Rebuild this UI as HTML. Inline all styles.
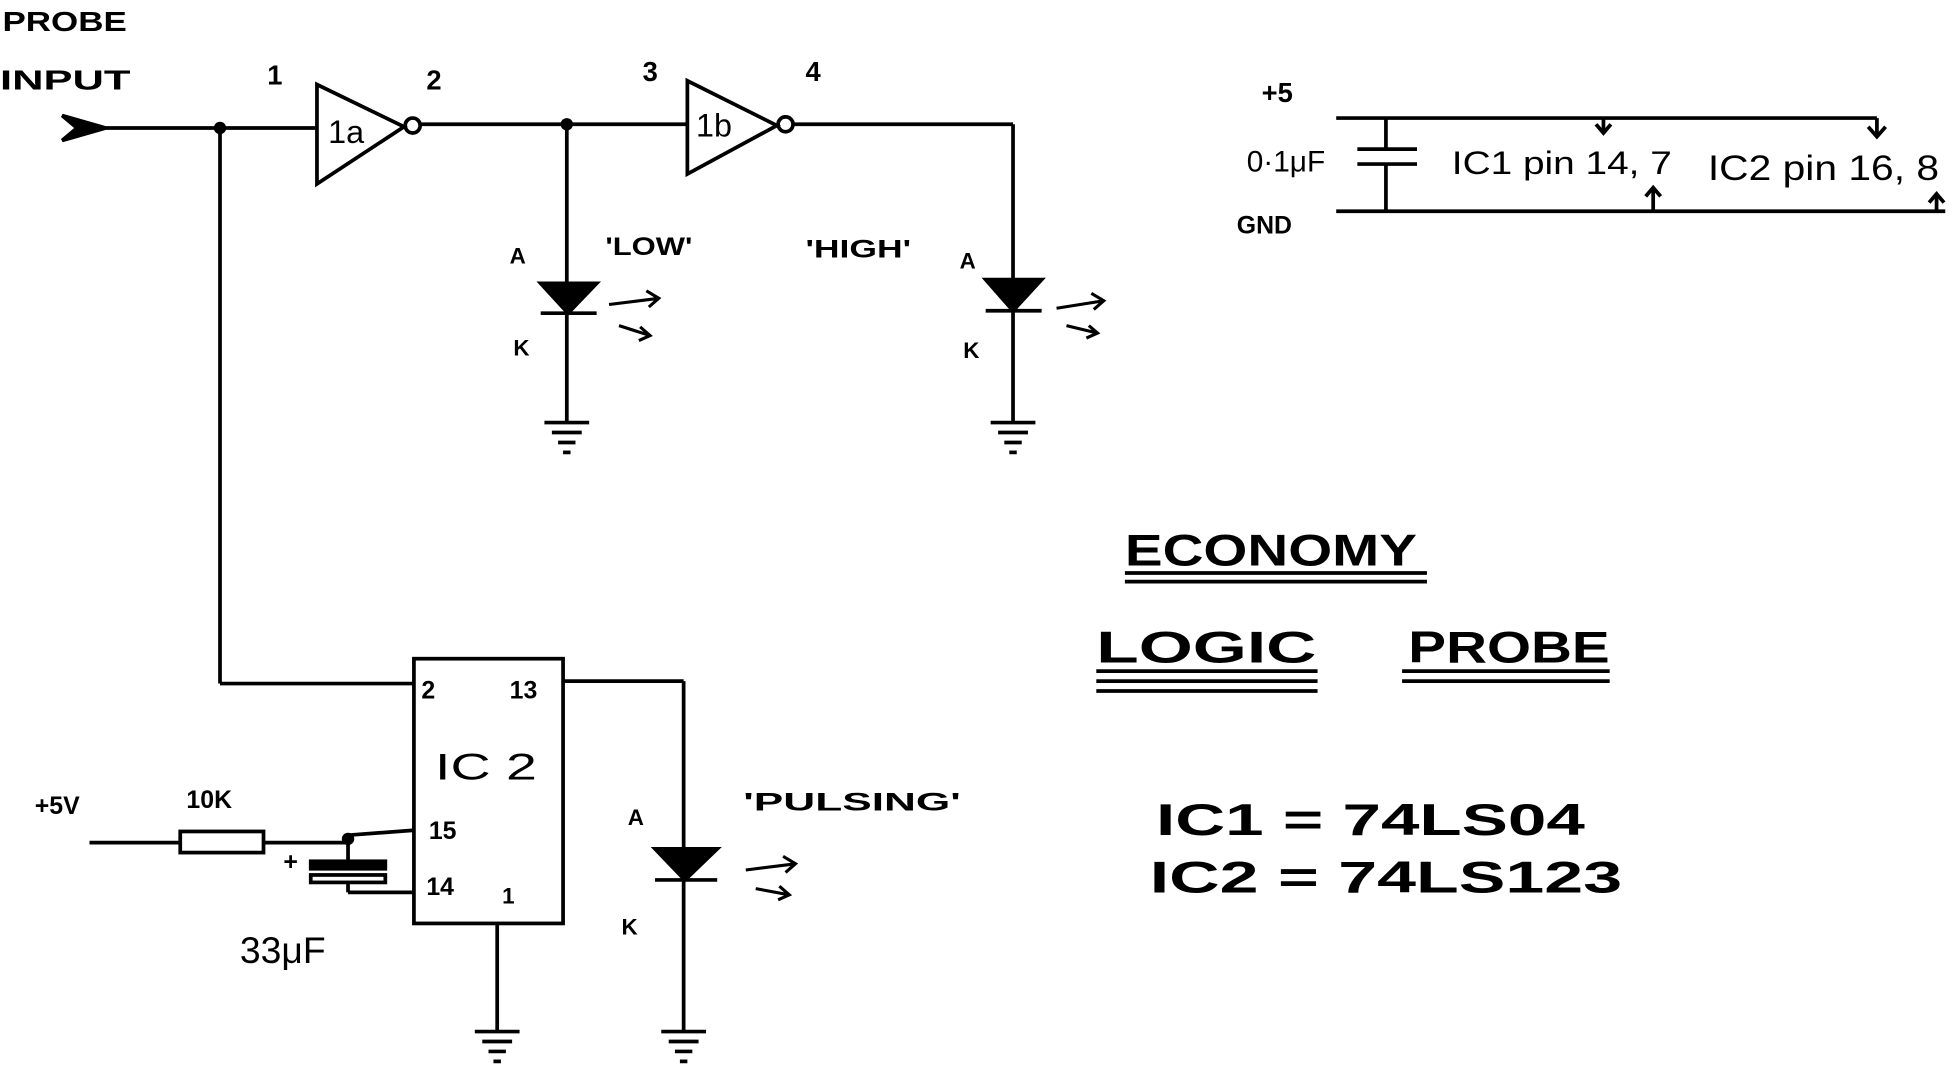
<!DOCTYPE html>
<html><head><meta charset="utf-8"><style>
html,body{margin:0;padding:0;background:#fff;}
svg{display:block;}
text{font-family:"Liberation Sans",sans-serif;fill:#000;}
</style></head><body>
<svg width="1949" height="1085" viewBox="0 0 1568 873" preserveAspectRatio="none" xmlns="http://www.w3.org/2000/svg">
<g stroke="#000" stroke-width="3" fill="none">
<path d="M50,93 L85,103 L50,113 L62,103 Z" fill="#000"/>
<line x1="85" y1="103" x2="255" y2="103"/>
<line x1="177" y1="103" x2="177" y2="550"/>
<line x1="177" y1="550" x2="333" y2="550"/>
<path d="M255,68 L255,148 L325,102 Z"/>
<circle cx="332" cy="101" r="6"/>
<line x1="338" y1="100" x2="553" y2="100"/>
<path d="M553,65 L553,140 L625,101 Z"/>
<circle cx="632" cy="100" r="6"/>
<line x1="638" y1="100" x2="815" y2="100"/>
<line x1="456" y1="100" x2="456" y2="340"/>
<path d="M435,228 L480,228 L457,252 Z" fill="#000"/>
<line x1="435" y1="252" x2="480" y2="252"/>
<line x1="815" y1="100" x2="815" y2="340"/>
<path d="M793,225 L838,225 L815,250 Z" fill="#000"/>
<line x1="793" y1="250" x2="838" y2="250"/>
<rect x="333" y="530" width="120" height="213"/>
<line x1="453" y1="548" x2="550" y2="548"/>
<line x1="550" y1="548" x2="550" y2="830"/>
<path d="M527,683 L577,683 L551,708 Z" fill="#000"/>
<line x1="527" y1="708" x2="577" y2="708"/>
<line x1="400" y1="743" x2="400" y2="830"/>
<line x1="72" y1="678" x2="145" y2="678"/>
<rect x="145" y="669" width="67" height="17"/>
<line x1="212" y1="678" x2="280" y2="678"/>
<line x1="280" y1="672" x2="333" y2="668"/>
<line x1="280" y1="678" x2="280" y2="693"/>
<rect x="250" y="693" width="60" height="6" fill="#000"/>
<rect x="250" y="704" width="60" height="6"/>
<line x1="280" y1="710" x2="280" y2="718"/>
<line x1="280" y1="718" x2="333" y2="718"/>
<line x1="1075" y1="95" x2="1510" y2="95"/>
<line x1="1510" y1="95" x2="1510" y2="108"/>
<path d="M1503,102 L1510,110 L1517,102"/>
<line x1="1290" y1="95" x2="1290" y2="106"/>
<path d="M1284,100 L1290,107 L1296,100"/>
<line x1="1115" y1="95" x2="1115" y2="120"/>
<line x1="1092" y1="120" x2="1140" y2="120"/>
<line x1="1092" y1="132" x2="1140" y2="132"/>
<line x1="1115" y1="132" x2="1115" y2="170"/>
<line x1="1075" y1="170" x2="1565" y2="170"/>
<line x1="1330" y1="170" x2="1330" y2="152"/>
<path d="M1324,158 L1330,151 L1336,158"/>
<line x1="1558" y1="170" x2="1558" y2="158"/>
<path d="M1552,163 L1558,156 L1564,163"/>
<line x1="905" y1="461" x2="1148" y2="461"/><line x1="905" y1="468" x2="1148" y2="468"/>
<line x1="882" y1="540" x2="1060" y2="540"/><line x1="882" y1="548" x2="1060" y2="548"/><line x1="882" y1="556" x2="1060" y2="556"/>
<line x1="1128" y1="540" x2="1295" y2="540"/><line x1="1128" y1="548" x2="1295" y2="548"/>
<g stroke-width="2.5">
<path d="M490,245 L530,240 M520,234 L530,240 L522,247 M498,262 L523,270 M515,263 L523,270 L514,274"/>
<path d="M850,248 L888,242 M878,236 L888,242 L880,249 M858,262 L883,268 M876,262 L883,268 L874,272"/>
<path d="M600,700 L640,695 M630,689 L640,695 L632,702 M608,715 L635,720 M627,713 L635,720 L626,724"/>
</g>
</g>
<g fill="#000">
<circle cx="177" cy="103" r="5"/><circle cx="456" cy="100" r="5"/><circle cx="280" cy="675" r="5"/>
</g>
<g stroke="#000" stroke-width="3">
<g transform="translate(456,340)"><line x1="-18" y1="0" x2="18" y2="0"/><line x1="-12" y1="8" x2="12" y2="8"/><line x1="-7" y1="16" x2="7" y2="16"/><line x1="-3" y1="24" x2="3" y2="24"/></g>
<g transform="translate(815,340)"><line x1="-18" y1="0" x2="18" y2="0"/><line x1="-12" y1="8" x2="12" y2="8"/><line x1="-7" y1="16" x2="7" y2="16"/><line x1="-3" y1="24" x2="3" y2="24"/></g>
<g transform="translate(400,830)"><line x1="-18" y1="0" x2="18" y2="0"/><line x1="-12" y1="8" x2="12" y2="8"/><line x1="-7" y1="16" x2="7" y2="16"/><line x1="-3" y1="24" x2="3" y2="24"/></g>
<g transform="translate(550,830)"><line x1="-18" y1="0" x2="18" y2="0"/><line x1="-12" y1="8" x2="12" y2="8"/><line x1="-7" y1="16" x2="7" y2="16"/><line x1="-3" y1="24" x2="3" y2="24"/></g>
</g>
<g font-size="22" font-weight="bold">
<text x="2" y="25" textLength="100" lengthAdjust="spacingAndGlyphs">PROBE</text>
<text x="0" y="72" textLength="105" lengthAdjust="spacingAndGlyphs">INPUT</text>
<text x="215" y="68">1</text><text x="343" y="72">2</text>
<text x="517" y="65">3</text><text x="648" y="65">4</text>
<text x="264" y="115" font-weight="normal" font-size="26">1a</text>
<text x="560" y="110" font-weight="normal" font-size="26">1b</text>
<text x="410" y="212" font-size="18">A</text><text x="413" y="286" font-size="18">K</text>
<text x="772" y="216" font-size="18">A</text><text x="775" y="288" font-size="18">K</text>
<text x="505" y="664" font-size="18">A</text><text x="500" y="752" font-size="18">K</text>
<text x="487" y="205" font-size="20" textLength="70" lengthAdjust="spacingAndGlyphs">'LOW'</text>
<text x="648" y="207" font-size="20" textLength="85" lengthAdjust="spacingAndGlyphs">'HIGH'</text>
<text x="598" y="652" font-size="20" textLength="175" lengthAdjust="spacingAndGlyphs">'PULSING'</text>
<text x="339" y="562" font-size="20">2</text><text x="410" y="562" font-size="20">13</text>
<text x="350" y="627" font-size="30" font-weight="normal" textLength="82" lengthAdjust="spacingAndGlyphs">IC 2</text>
<text x="345" y="675" font-size="20">15</text><text x="343" y="720" font-size="20">14</text>
<text x="404" y="727" font-size="18">1</text>
<text x="28" y="655" font-size="20">+5V</text><text x="150" y="650" font-size="20">10K</text>
<text x="228" y="700" font-size="20">+</text>
<text x="193" y="775" font-size="30" font-weight="normal">33μF</text>
<text x="1015" y="82" font-size="22">+5</text>
<text x="1003" y="138" font-size="24" font-weight="normal">0·1μF</text>
<text x="995" y="188" font-size="20">GND</text>
<text x="1168" y="140" font-size="26" font-weight="normal" textLength="177" lengthAdjust="spacingAndGlyphs">IC1 pin 14, 7</text>
<text x="1374" y="145" font-size="28" font-weight="normal" textLength="186" lengthAdjust="spacingAndGlyphs">IC2 pin 16, 8</text>
</g>
<g font-size="36" font-weight="bold">
<text x="905" y="455" textLength="235" lengthAdjust="spacingAndGlyphs">ECONOMY</text>
<text x="882" y="533" textLength="177" lengthAdjust="spacingAndGlyphs">LOGIC</text>
<text x="1133" y="533" textLength="162" lengthAdjust="spacingAndGlyphs">PROBE</text>
<text x="930" y="672" textLength="345" lengthAdjust="spacingAndGlyphs">IC1 = 74LS04</text>
<text x="925" y="718" textLength="380" lengthAdjust="spacingAndGlyphs">IC2 = 74LS123</text>
</g>
</svg>
</body></html>
